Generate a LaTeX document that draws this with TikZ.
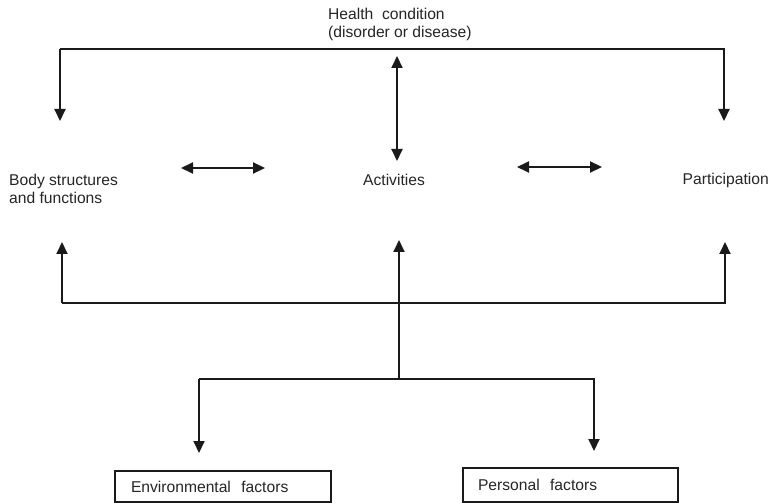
\documentclass[tikz,border=0pt]{standalone}
\usepackage{fontspec}
\setmainfont{Liberation Sans}
\usetikzlibrary{arrows.meta}
\definecolor{txt}{HTML}{262626}
\definecolor{ln}{HTML}{1A1A1A}
\begin{document}
\begin{tikzpicture}[x=1bp,y=-1bp,
  lbl/.style={font=\fontsize{15.7}{18}\selectfont, text=txt, inner sep=0pt, align=left},
  conn/.style={line width=2bp, draw=ln, line join=miter},
  arr/.style={conn, -{Triangle[width=11bp,length=12bp]}},
  dbl/.style={conn, {Triangle[width=11bp,length=12bp]}-{Triangle[width=11bp,length=12bp]}},
  factor/.style={draw=ln, line width=1.6bp, font=\fontsize{15.7}{18}\selectfont, text=txt, align=left, inner ysep=0pt}]
\useasboundingbox (0,0) rectangle (772,504);
\fill[white] (0,0) rectangle (772,504);

% text nodes
\node[lbl, anchor=west] (health) at (328,24) {Health\ \ condition\\(disorder or disease)};
\node[lbl, anchor=west] (body) at (9,189) {Body structures\\and functions};
\node[lbl] (act) at (394,180) {Activities};
\node[lbl, anchor=east] (part) at (769,180) {Participation};
\node[factor, minimum width=216bp, minimum height=31bp, text width=184bp, inner xsep=16bp] (env) at (223,486.5) {Environmental\ \ factors};
\node[factor, minimum width=215bp, minimum height=34bp, text width=185bp, inner xsep=15bp] (pers) at (570.5,485) {Personal\ \ factors};

% coordinates for connector ends
\coordinate (tl) at (60,49);
\coordinate (tr) at (724,49);
\coordinate (bodyTop) at (60,121);
\coordinate (partTop) at (724,121);
\coordinate (hcBot) at (397,56);
\coordinate (actTop) at (397,161);
\coordinate (bl1) at (181,168);
\coordinate (bl2) at (265,168);
\coordinate (br1) at (517,167);
\coordinate (br2) at (602,167);
\coordinate (bbl) at (62,303);
\coordinate (bbr) at (725,303);
\coordinate (bodyBot) at (62,242);
\coordinate (partBot) at (725,242);
\coordinate (actBot) at (399,240);
\coordinate (mid) at (399,379);
\coordinate (ml) at (199,379);
\coordinate (mr) at (594,379);
\coordinate (envTop) at (199,453);
\coordinate (persTop) at (594,451);

% top branch
\draw[arr] (tl) -- (tr) -- (partTop);
\draw[arr] (tl) -- (bodyTop);
\draw[dbl] (hcBot) -- (actTop);
% horizontal double arrows
\draw[dbl] (bl1) -- (bl2);
\draw[dbl] (br1) -- (br2);
% bottom branch
\draw[arr] (bbl) -- (bbr) -- (partBot);
\draw[arr] (bbl) -- (bodyBot);
\draw[arr] (mid) -- (actBot);
\draw[arr] (ml) -- (mr) -- (persTop);
\draw[arr] (ml) -- (envTop);
\end{tikzpicture}
\end{document}
